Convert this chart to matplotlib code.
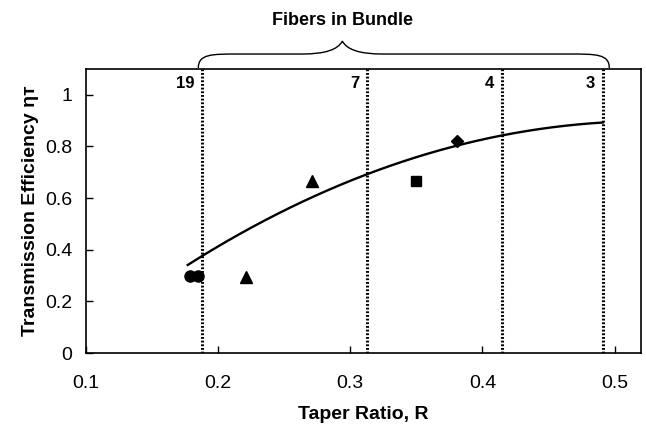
import numpy as np
import matplotlib
matplotlib.use("Agg")
import matplotlib.pyplot as plt
from matplotlib.path import Path
from matplotlib.patches import PathPatch

plt.rcParams['font.family'] = ['Liberation Sans', 'DejaVu Sans']

# Data
fit_R = [0.177, 0.188, 0.2245, 0.27, 0.313, 0.3755, 0.415, 0.45, 0.491]
fit_eta = [0.34, 0.378, 0.483, 0.60, 0.694, 0.797, 0.842, 0.872, 0.893]

circle_R = [0.179, 0.185]
circle_eta = [0.30, 0.30]
triangle_R = [0.221, 0.271]
triangle_eta = [0.295, 0.665]
square_R = [0.35]
square_eta = [0.668]
diamond_R = [0.381]
diamond_eta = [0.823]

bundle_R = [0.188, 0.313, 0.415, 0.491]
bundle_labels = ['19', '7', '4', '3']

xticks = [0.1, 0.2, 0.3, 0.4, 0.5]
yticks = [0, 0.2, 0.4, 0.6, 0.8, 1.0]

fig = plt.figure(figsize=(6.46, 4.24), dpi=100)
ax = fig.add_axes([86/646, 71/424, 555/646, 284/424])

xs = np.linspace(fit_R[0], fit_R[-1], 200)
coef = np.polyfit(fit_R, fit_eta, 3)
ax.plot(xs, np.polyval(coef, xs), color='black', lw=1.7, zorder=3)

ms = 8
ax.plot(circle_R, circle_eta, 'o', color='black', ms=ms, zorder=4)
ax.plot(triangle_R, triangle_eta, '^', color='black', ms=ms, zorder=4)
ax.plot(square_R, square_eta, 's', color='black', ms=7, zorder=4)
ax.plot(diamond_R, diamond_eta, 'D', color='black', ms=6.5, zorder=4)

for r, lab in zip(bundle_R, bundle_labels):
    ax.plot([r, r], [0, 1.1], color='black', lw=2.2, ls=(0, (0.6, 0.6)), zorder=2)
    ax.text(r - 0.006, 1.042, lab, ha='right', va='center', fontsize=12,
            fontweight='bold')

ax.set_xlim(0.1, 0.52)
ax.set_ylim(0, 1.1)
ax.set_xticks(xticks)
ax.set_xticklabels([f'{t:g}' for t in xticks])
ax.set_yticks(yticks)
ax.set_yticklabels([f'{t:g}' for t in yticks])
ax.tick_params(direction='in', length=5, width=1, labelsize=14)
ax.tick_params(axis='x', pad=16)
ax.tick_params(axis='y', pad=10)
for s in ax.spines.values():
    s.set_linewidth(1.2)

ax.set_xlabel('Taper Ratio, R', fontsize=14, fontweight='bold', labelpad=10)
ax.set_ylabel('Transmission Efficiency ηᴛ', fontsize=14, fontweight='bold',
              labelpad=4)

# curly brace above plot
xl, xr, xm = 0.185, 0.496, 0.294
yb, ya, yt = 1.104, 1.158, 1.208
verts = [
    (xl, yb), (xl, ya), (xl + 0.01, ya), (xl + 0.03, ya),
    (xm - 0.03, ya), (xm - 0.005, ya), (xm, yt),
    (xm + 0.005, ya), (xm + 0.03, ya), (xr - 0.03, ya),
    (xr - 0.01, ya), (xr, ya), (xr, yb),
]
codes = [Path.MOVETO, Path.CURVE4, Path.CURVE4, Path.CURVE4,
         Path.LINETO, Path.CURVE3, Path.CURVE3,
         Path.CURVE3, Path.CURVE3, Path.LINETO,
         Path.CURVE4, Path.CURVE4, Path.CURVE4]
ax.add_patch(PathPatch(Path(verts, codes), fill=False, lw=1.0,
                       color='black', clip_on=False))
ax.text(xm, 1.286, 'Fibers in Bundle', ha='center', va='center',
        fontsize=13, fontweight='bold', clip_on=False)

fig.savefig('out.png', dpi=100)
